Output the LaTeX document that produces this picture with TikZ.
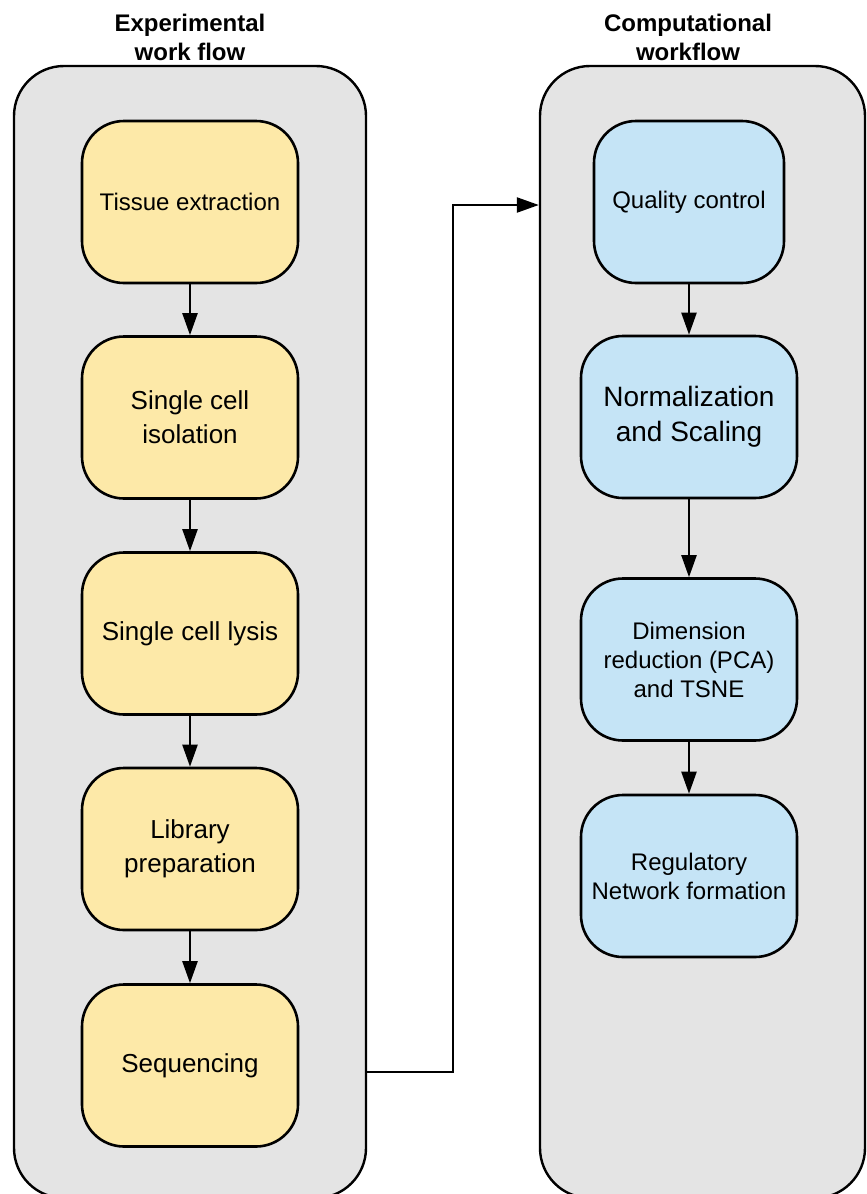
\documentclass[tikz,border=0pt]{standalone}
\usepackage{fontspec}
\setmainfont{Liberation Sans}
\usetikzlibrary{arrows.meta}
\definecolor{panelgray}{RGB}{228,228,228}
\definecolor{expyellow}{RGB}{253,233,168}
\definecolor{compblue}{RGB}{197,228,246}
\tikzset{
  panel/.style={draw, line width=2.4pt, fill=panelgray, rounded corners=50pt},
  expbox/.style={draw, line width=2.6pt, fill=expyellow, rounded corners=42pt,
    minimum width=216pt, minimum height=162pt, align=center,
    font=\fontsize{26}{34}\selectfont},
  compbox/.style={draw, line width=2.6pt, fill=compblue, rounded corners=42pt,
    minimum width=216pt, minimum height=162pt, align=center,
    font=\fontsize{24}{29}\selectfont},
  title/.style={align=center, font=\bfseries\fontsize{24}{29}\selectfont},
  flowarrow/.style={line width=2.3pt, -{Triangle[length=22pt,width=15pt]}}
}
\begin{document}
\begin{tikzpicture}[x=1pt,y=-1pt]
\clip (0,0) rectangle (867,1194);
\fill[white] (0,0) rectangle (867,1194);
\node[title] (LT) at (190,37) {Experimental\\work flow};
\node[title] (RT) at (688,37) {Computational\\workflow};
\node[panel, minimum width=352pt, minimum height=1132pt] (LP) at (190,632) {};
\node[panel, minimum width=325pt, minimum height=1132pt] (RP) at (702.5,632) {};
\node[expbox, font=\fontsize{24}{29}\selectfont] (E1) at (190,202) {Tissue extraction};
\node[expbox] (E2) at (190,417.5) {Single cell\\isolation};
\node[expbox] (E3) at (190,633.5) {Single cell lysis};
\node[expbox] (E4) at (190,849) {Library\\preparation};
\node[expbox] (E5) at (190,1065.5) {Sequencing};
\node[compbox, minimum width=190pt] (C1) at (689,202) {Quality control};
\node[compbox, font=\fontsize{28}{35}\selectfont] (C2) at (689,417) {Normalization\\and Scaling};
\node[compbox] (C3) at (689,659.5) {Dimension\\reduction (PCA)\\and TSNE};
\node[compbox] (C4) at (689,876) {Regulatory\\Network formation};
\draw[flowarrow] (E1) -- (E2);
\draw[flowarrow] (E2) -- (E3);
\draw[flowarrow] (E3) -- (E4);
\draw[flowarrow] (E4) -- (E5);
\draw[flowarrow] (C1) -- (C2);
\draw[flowarrow] (C2) -- (C3);
\draw[flowarrow] (C3) -- (C4);
\coordinate (out) at (LP.east |- 0,1072);
\coordinate (bend) at (453,205);
\coordinate (in) at (RP.west |- bend);
\draw[flowarrow] (out) -| (bend) -- (in);
\end{tikzpicture}
\end{document}
